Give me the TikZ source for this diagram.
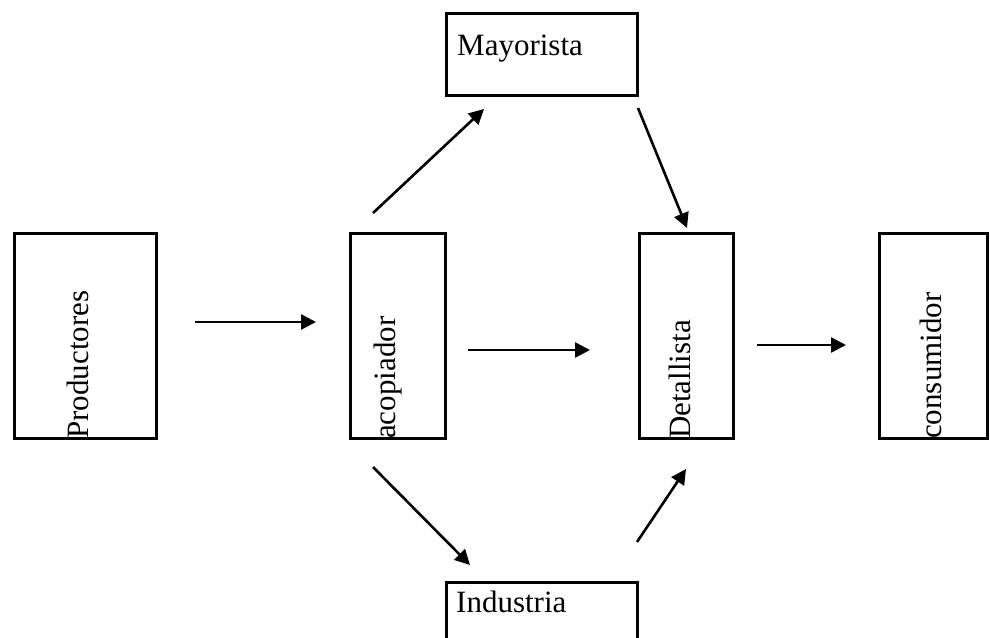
\documentclass[tikz,border=0pt]{standalone}
\usepackage{fontspec}
\setmainfont{Liberation Serif}
\usetikzlibrary{arrows.meta}
\begin{document}
\begin{tikzpicture}[x=1pt,y=-1pt,
  box/.style={draw, line width=3.4pt, rectangle, inner sep=0pt},
  lbl/.style={inner sep=0pt, font=\fontsize{31}{37}\selectfont},
  vlbl/.style={lbl, rotate=90, anchor=base west},
  hlbl/.style={lbl, anchor=base west},
  flow/.style={line width=2.6pt, -{Triangle[length=15pt,width=15pt]}}]
\useasboundingbox (0,0) rectangle (990,637);
\clip (0,0) rectangle (990,637);
% boxes
\node[box, minimum width=142pt, minimum height=205pt] (prod) at (85.5,336) {};
\node[box, minimum width=95pt, minimum height=205pt] (acop) at (398,336) {};
\node[box, minimum width=94pt, minimum height=205pt] (deta) at (686.5,336) {};
\node[box, minimum width=108pt, minimum height=205pt] (cons) at (933.5,336) {};
\node[box, minimum width=191pt, minimum height=82pt] (mayo) at (542,54.5) {};
\node[box, minimum width=191pt, minimum height=88pt] (indu) at (542,626.5) {};
% labels
\node[vlbl] (tprod) at (88,439) {Productores};
\node[vlbl] (tacop) at (395,439) {acopiador};
\node[vlbl] (tdeta) at (690,439) {Detallista};
\node[vlbl] (tcons) at (941,439) {consumidor};
\node[hlbl] (tmayo) at (457,55) {Mayorista};
\node[hlbl] (tindu) at (456,612) {Industria};
% connector ends
\coordinate (a1s) at (195,322); \coordinate (a1e) at (316,322);
\coordinate (a2s) at (468,350); \coordinate (a2e) at (590,350);
\coordinate (a3s) at (757,345); \coordinate (a3e) at (846,345);
\coordinate (a4s) at (373,213); \coordinate (a4e) at (484,109);
\coordinate (a5s) at (638,108); \coordinate (a5e) at (687,228);
\coordinate (a6s) at (373,467); \coordinate (a6e) at (470,565);
\coordinate (a7s) at (637,542); \coordinate (a7e) at (686,469);
\draw[flow] (a1s) -- (a1e);
\draw[flow] (a2s) -- (a2e);
\draw[flow] (a3s) -- (a3e);
\draw[flow] (a4s) -- (a4e);
\draw[flow] (a5s) -- (a5e);
\draw[flow] (a6s) -- (a6e);
\draw[flow] (a7s) -- (a7e);
\end{tikzpicture}
\end{document}
